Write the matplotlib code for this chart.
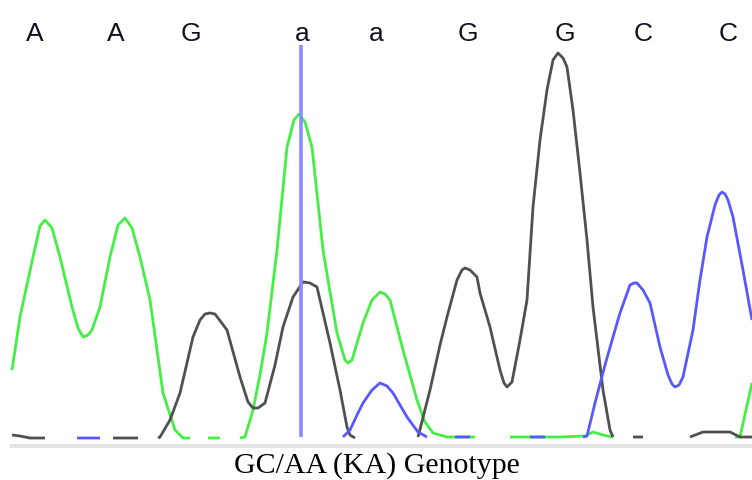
import numpy as np
import matplotlib
matplotlib.use("Agg")
import matplotlib.pyplot as plt

nan = np.nan
BASE = 437  # pixel row of the trace baseline

# base calls and their scan positions
calls = ["A", "A", "G", "a", "a", "G", "G", "C", "C"]
call_pos = [35, 116, 191, 302, 376, 468, 565, 643, 728]
marker_pos = 301

# traces: scan position and pixel row (converted to signal below)
green_x = [12, 20, 33, 40, 45, 52, 60, 72, 78, 83, 88, 92, 100, 110, 118, 125, 132, 140, 150, 163, 175, 183, 190,
           nan, 208, 220, nan, 240, 245, 253, 260, 267, 277, 287, 294, 299, 305, 312, 323, 328, 337, 345,
           348, 352, 363, 372, 380, 385, 390, 403, 417, 425, 433, 447, 475, nan, 510, 530, 560, 585, 593, 603, 613,
           nan, 735, 740, 746, 752]
green_y = [370, 317, 257, 226, 220, 228, 257, 307, 328, 337, 335, 330, 307, 257, 225, 218, 228, 257, 300, 393, 430, 438, 438,
           nan, 438, 438, nan, 438, 437, 410, 375, 333, 250, 147, 120, 114, 122, 147, 250, 280, 333, 360,
           363, 360, 323, 300, 292, 294, 300, 350, 400, 422, 433, 437, 437, nan, 437, 437, 437, 436, 432, 435, 437,
           nan, 437, 437, 410, 383]

black_x = [12, 20, 30, 45, nan, 113, 138, nan, 158, 160, 170, 180, 193, 200, 205, 210, 215, 218, 227, 240, 248, 253, 258,
           265, 275, 283, 293, 303, 310, 317, 330, 340, 347, 350, 355, nan, 418, 430, 440, 447, 457, 462, 465,
           470, 477, 480, 490, 500, 504, 507, 512, 520, 527, 533, 540, 547, 553, 558, 563, 567, 573, 580, 587,
           593, 603, 610, 613, nan, 633, 643, nan, 690, 703, 730, 740, 752]
black_y = [435, 436, 438, 438, nan, 438, 438, nan, 438, 437, 420, 393, 337, 320, 314, 313, 314, 318, 330, 377, 402, 408, 408,
           403, 365, 327, 297, 282, 283, 287, 343, 390, 427, 435, 438, nan, 437, 390, 345, 317, 280, 270, 268,
           270, 277, 293, 327, 370, 383, 387, 382, 340, 300, 207, 140, 90, 60, 53, 58, 67, 110, 173, 240,
           307, 390, 430, 437, nan, 437, 437, nan, 437, 432, 432, 437, 437]

blue_x = [77, 100, nan, 343, 350, 357, 363, 372, 380, 387, 393, 400, 407, 418, 427, nan, 455, 470, nan,
          530, 545, nan, 583, 587, 595, 605, 613, 620, 630, 634, 637, 643, 650, 660, 668, 672, 675, 679, 683, 693, 700,
          707, 715, 719, 722, 725, 728, 733, 743, 752]
blue_y = [438, 438, nan, 437, 430, 415, 403, 390, 383, 386, 393, 405, 417, 432, 437, nan, 437, 437, nan,
          437, 437, nan, 437, 436, 403, 365, 337, 313, 285, 283, 283, 290, 303, 347, 375, 384, 387, 385, 377, 330, 280,
          237, 205, 195, 192, 194, 200, 217, 270, 320]

caption = "GC/AA (KA) Genotype"


def signal(rows):
    return BASE - np.array(rows, dtype=float)


fig = plt.figure(figsize=(7.52, 4.80), dpi=100)
fig.patch.set_facecolor("white")
ax = fig.add_axes([0, 0, 1, 1])
ax.set_xlim(0, 752)
ax.set_ylim(BASE - 480, BASE)
ax.axis("off")

# light grey strip under the traces
ax.axhline(-9, xmin=12 / 752, xmax=1, color="#e4e4e4", lw=3, zorder=1)

kw = dict(lw=2.0, solid_capstyle="butt", solid_joinstyle="round")
ax.plot(green_x, signal(green_y), color="#44ee44", zorder=2, **kw)
ax.plot(black_x, signal(black_y), color="#505050", zorder=3, **kw)
ax.plot(blue_x, signal(blue_y), color="#5858ff", zorder=4, **kw)

ax.vlines(marker_pos, 0, BASE - 45, color="#8a8aff", lw=2.6, zorder=5)

for lab, xp in zip(calls, call_pos):
    ax.text(xp, BASE - 41, lab, ha="center", va="baseline", fontsize=19,
            family="Liberation Sans", color="#111122")

fig.text(377 / 752, 1 - 473 / 480, caption, ha="center", va="baseline", fontsize=21.5,
         family="Liberation Serif", color="black")

fig.savefig("out.png", dpi=100)
